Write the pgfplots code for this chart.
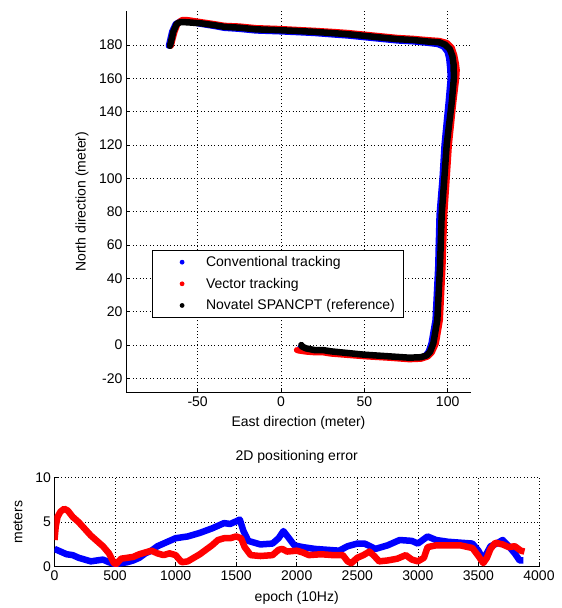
\documentclass[border=0pt]{standalone}
\usepackage{fontspec}
\setmainfont{Liberation Sans}
\usepackage{pgfplots}
\pgfplotsset{compat=1.18}
\begin{document}
\begin{tikzpicture}
\useasboundingbox (0pt,0pt) rectangle (562pt,608pt);
\pgfplotsset{
  every axis/.append style={font=\fontsize{14}{17}\selectfont},
  mstyle/.style={
    scale only axis,
    axis x line*=bottom, axis y line*=left,
    axis line style={-, black, line width=0.8pt},
    tick align=inside, major tick length=4pt,
    tick style={black, line width=0.6pt},
    grid=major, grid style={black, line width=0.6pt, dash pattern=on 0.8pt off 2.6pt},
    /pgf/number format/assume math mode=true,
    tick label style={font=\fontsize{14}{17}\selectfont},
    label style={font=\fontsize{14}{17}\selectfont},
    title style={font=\fontsize{14}{17}\selectfont},
  },
}
% ---------- top: trajectory ----------
\begin{axis}[mstyle,
  at={(126pt,215.3pt)}, anchor=south west,
  width=345pt, height=381.7pt,
  xmin=-93, xmax=114, ymin=-28.6, ymax=200.4,
  xtick={-50,0,50,100}, ytick={-20,0,20,40,60,80,100,120,140,160,180},
  xlabel={East direction (meter)},
  ylabel={North direction (meter)},
  xlabel style={at={(axis description cs:0.5,-0.0794)}, anchor=center},
  ylabel style={at={(axis description cs:-0.1275,0.5)}, anchor=center, rotate=0},
  legend style={at={(rel axis cs:0.0745,0.374)}, anchor=north west,
    draw=black, line width=0.8pt, inner xsep=6pt, inner ysep=4pt,
    row sep=6pt, font=\fontsize{14}{17}\selectfont},
  legend cell align=left,
  legend image code/.code={\fill[#1, draw=none] (24pt,0pt) circle (2.4pt); \path[draw=none, fill=none] (0pt,0pt) rectangle (46pt,0.1pt);},
]
\addlegendimage{blue}
\addlegendentry{Conventional tracking}
\addlegendimage{red}
\addlegendentry{Vector tracking}
\addlegendimage{black}
\addlegendentry{Novatel SPANCPT (reference)}
% blue
\addplot[forget plot, blue, line width=6pt, line cap=round, line join=round] coordinates {
(-67.4,179.5) (-66.8,182) (-65.4,188) (-63.3,192.6) (-60.5,194.2) (-56,194.2) (-48,192.6) (-40,191.3) (-34,190.2) (-25,189.6) (-15,188.6) (-1,188.1) (10,187.6) (20,187.1) (33,186.1) (40,185.6) (50,184.6) (60,183.6) (70,182.6) (79,182.1) (88,181.2) (94,180.5) (97.5,179) (99.8,176) (100.8,172) (101.5,165) (101.7,160) (100.5,146) (98,120) (96.8,100) (95,78) (94.2,47) (92.6,15) (90.2,1) (88.5,-4) (86.5,-6.5) (84,-7.6) (77,-8.2) (65,-7.3) (50,-6.3) (40,-5.3) (30,-4.2) (25,-3.3) (20,-3.3) (15,-2.4) (11.5,-1.6)
};
% red
\addplot[forget plot, red, line width=6pt, line cap=round, line join=round] coordinates {
(-66,179.5) (-65.4,182) (-63.8,188) (-61.8,193.2) (-59.5,195) (-56,195) (-48,193.8) (-40,192.6) (-34,191.6) (-25,191.2) (-15,190.2) (-1,189.7) (10,189.1) (20,188.6) (33,187.8) (40,187.3) (50,186.3) (60,185.3) (70,184.3) (79,183.8) (88,183) (95,182.5) (99.5,181.3) (102.5,178.4) (104,174) (105,169) (105.5,165) (105.2,160) (103.5,146) (100.8,120) (99.5,100) (98,78) (97,47) (95.4,15) (93,1) (90.5,-4.5) (88,-7) (84,-8.3) (77,-8.6) (65,-7.7) (50,-6.8) (40,-6) (30,-5.2) (25,-4.4) (20,-4.4) (15,-4) (10.5,-3.3) (9.5,-3)
};
% black
\addplot[forget plot, black, line width=6.5pt, line cap=round, line join=round] coordinates {
(-66.6,179.5) (-66,182) (-64.6,188) (-62.5,192.8) (-60,193.8) (-56,193.6) (-48,193) (-40,191.9) (-34,190.9) (-25,190.4) (-15,189.4) (-1,188.9) (10,188.4) (20,187.9) (33,187) (40,186.5) (50,185.5) (60,184.5) (70,183.5) (79,183) (88,182.1) (95,181.6) (98.5,180.2) (101.3,177.5) (102.8,173.5) (103.6,168) (103.7,160) (102.5,146) (99.4,120) (98,100) (96.4,78) (95.4,47) (93.8,15) (91.4,1) (89.5,-4) (87.5,-6.2) (84,-7.3) (77,-7.6) (65,-6.8) (50,-5.8) (40,-4.8) (30,-3.8) (25,-3) (20,-3) (15,-2) (12.5,-0.8) (12.2,0)
};
\end{axis}
% ---------- bottom: 2D error ----------
\begin{axis}[mstyle,
  at={(54.5pt,41.3pt)}, anchor=south west,
  width=484.5pt, height=89pt,
  xmin=0, xmax=4000, ymin=0, ymax=10,
  xtick={0,500,...,4000}, ytick={0,5,10},
  title={2D positioning error},
  title style={at={(axis description cs:0.5,1.165)}, anchor=center},
  xlabel={epoch (10Hz)},
  ylabel={meters},
  xlabel style={at={(axis description cs:0.5,-0.352)}, anchor=center},
  ylabel style={at={(axis description cs:-0.0753,0.5)}, anchor=center},
  scaled x ticks=false,
  xticklabel style={/pgf/number format/1000 sep={}},
]
\addplot[blue, line width=6.5pt, line join=round] coordinates {
(0,2.0) (50,1.7) (100,1.4) (150,1.3) (200,1.0) (250,0.8) (300,0.6) (350,0.7) (400,0.8) (450,0.5) (500,0.3) (550,0.4) (600,0.5) (650,0.7) (700,1.0) (750,1.5) (800,1.8) (850,2.3) (900,2.6) (950,2.9) (1000,3.2) (1100,3.4) (1200,3.8) (1300,4.3) (1400,4.9) (1450,4.8) (1500,5.1) (1530,5.3) (1560,4.0) (1600,2.9) (1700,2.5) (1800,2.6) (1850,3.2) (1890,4.0) (1930,3.3) (1980,2.4) (2050,2.2) (2150,2.0) (2250,1.9) (2350,1.8) (2420,2.3) (2500,2.6) (2560,2.6) (2650,2.0) (2750,2.4) (2850,3.0) (2950,2.9) (3000,2.6) (3080,3.4) (3150,3.0) (3250,2.8) (3350,2.7) (3450,2.6) (3500,1.8) (3540,0.8) (3600,2.3) (3650,2.6) (3700,3.0) (3750,2.3) (3800,1.5) (3840,0.7) (3870,0.7)
};
\addplot[red, line width=6.5pt, line join=round] coordinates {
(0,3.0) (10,4.5) (25,5.6) (50,6.2) (80,6.5) (110,6.3) (150,5.6) (200,5.0) (240,4.4) (300,3.5) (350,2.9) (400,2.3) (450,1.5) (490,0.4) (510,0.3) (550,0.9) (600,1.0) (650,1.1) (700,1.4) (750,1.6) (800,1.8) (850,1.5) (900,1.3) (950,1.5) (1000,1.3) (1050,0.5) (1100,0.6) (1150,1.0) (1200,1.4) (1250,1.9) (1300,2.4) (1350,3.0) (1400,3.2) (1450,3.2) (1500,3.4) (1540,3.2) (1570,2.2) (1620,1.3) (1700,1.2) (1800,1.3) (1850,1.9) (1880,2.0) (1920,1.7) (2000,1.8) (2050,1.6) (2100,1.3) (2200,1.4) (2300,1.3) (2380,1.3) (2420,0.6) (2450,0.4) (2500,1.0) (2550,1.3) (2600,1.7) (2640,1.2) (2680,0.6) (2750,0.7) (2830,0.9) (2900,1.3) (2950,0.8) (3000,0.6) (3050,1.0) (3080,2.2) (3150,2.4) (3250,2.4) (3350,2.4) (3450,2.1) (3500,1.2) (3540,0.4) (3570,1.0) (3600,2.0) (3640,2.7) (3700,2.5) (3750,2.2) (3800,2.3) (3850,1.8) (3880,1.7)
};
\end{axis}
\end{tikzpicture}
\end{document}
